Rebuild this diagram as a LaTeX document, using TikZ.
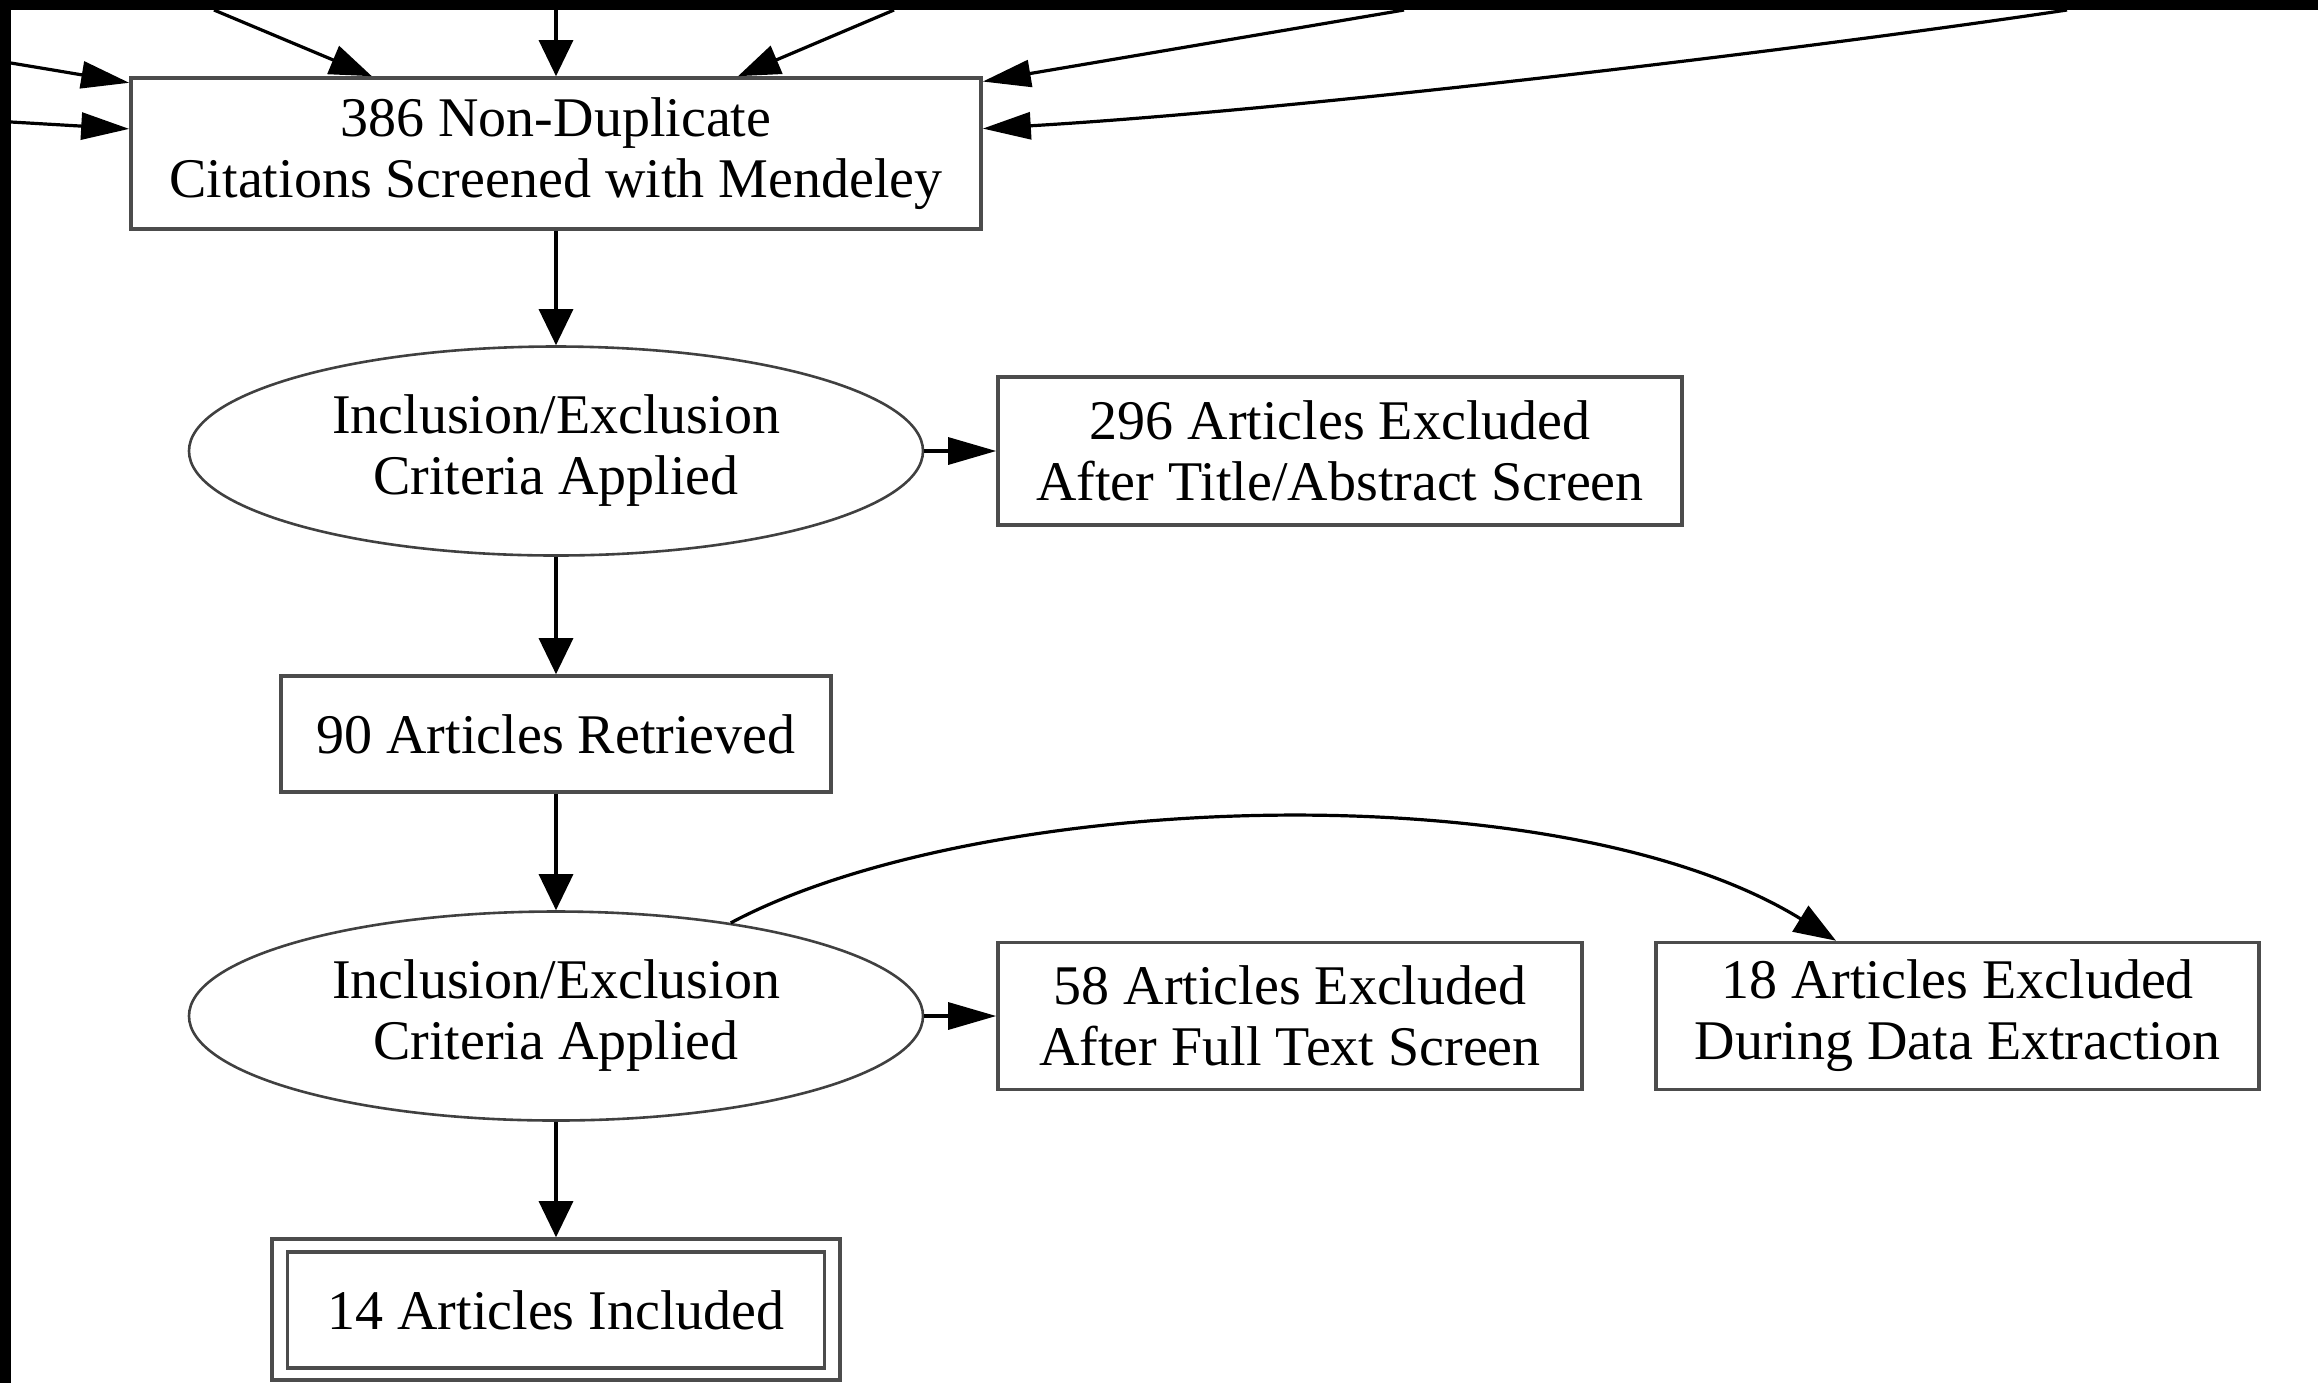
\documentclass[tikz,border=0pt]{standalone}
\usepackage{fontspec}
\setmainfont{Liberation Serif}
\usetikzlibrary{arrows.meta,shapes.geometric}

\begin{document}
\begin{tikzpicture}[x=0.5pt, y=-0.5pt,
        box/.style={draw=black!70, line width=1.8pt, rectangle, align=center, inner sep=0pt},
        crit/.style={draw=black!75, line width=1.3pt, ellipse, align=center, inner sep=0pt,
            minimum width=367pt, minimum height=104.5pt},
        flow/.style={line width=1.6pt, -{Triangle[length=18pt, width=17pt]}},
        flowd/.style={line width=1.6pt, -{Triangle[length=21pt, width=15pt]}},
        flowh/.style={line width=1.6pt, -{Triangle[length=24pt, width=13.5pt]}},
        font=\fontsize{28}{30.5}\selectfont]
        \useasboundingbox (0,0) rectangle (2318,1383);
        \fill[black] (0,0) rectangle (2318,10);
        \fill[black] (0,0) rectangle (11,1383);
        % nodes
        \node[box, minimum width=425pt, minimum height=75.5pt] (cit) at (556,153.5) {386 Non-Duplicate\\Citations Screened with Mendeley};
        \node[crit] (crit1) at (556,451) {Inclusion/Exclusion\\Criteria Applied};
        \node[box, minimum width=342pt, minimum height=74pt] (exta) at (1340,451) {296 Articles Excluded\\After Title/Abstract Screen};
        \node[box, minimum width=275pt, minimum height=58pt] (ret) at (556,734) {90 Articles Retrieved};
        \node[crit] (crit2) at (556,1016) {Inclusion/Exclusion\\Criteria Applied};
        \node[box, minimum width=292pt, minimum height=73.5pt] (exft) at (1290,1016) {58 Articles Excluded\\After Full Text Screen};
        \node[box, minimum width=301.5pt, minimum height=73.5pt] (exde) at (1957.5,1016) {18 Articles Excluded\\During Data Extraction};
        \node[box, minimum width=284pt, minimum height=70.5pt] (inc) at (556,1309.5) {};
        \node[box, minimum width=268.5pt, minimum height=58pt] (incin) at (556,1310) {14 Articles Included};
        % sources above the crop
        \coordinate (s1) at (11,63);
        \coordinate (s2) at (11,122);
        \coordinate (s3) at (214,10);
        \coordinate (s4) at (556,10);
        \coordinate (s5) at (894,10);
        \coordinate (s6) at (1404,10);
        \coordinate (s7) at (2067,10);
        \foreach \s in {s1,s2,s6}
            \draw[flowh] (\s) -- (cit);
        \foreach \s in {s3,s5}
            \draw[flowd] (\s) -- (cit);
        \draw[flow] (s4) -- (cit.north);
        \draw[flowh] (s7) .. controls (1800,50) and (1300,110) .. (cit);
        % flow
        \draw[flow] (cit) -- (crit1);
        \draw[flowh] (crit1) -- (exta);
        \draw[flow] (crit1) -- (ret);
        \draw[flow] (ret) -- (crit2);
        \draw[flowh] (crit2) -- (exft);
        \draw[flowd] (crit2) .. controls (980,790) and (1560,770) .. (exde);
        \draw[flow] (crit2) -- (inc);
\end{tikzpicture}
\end{document}
